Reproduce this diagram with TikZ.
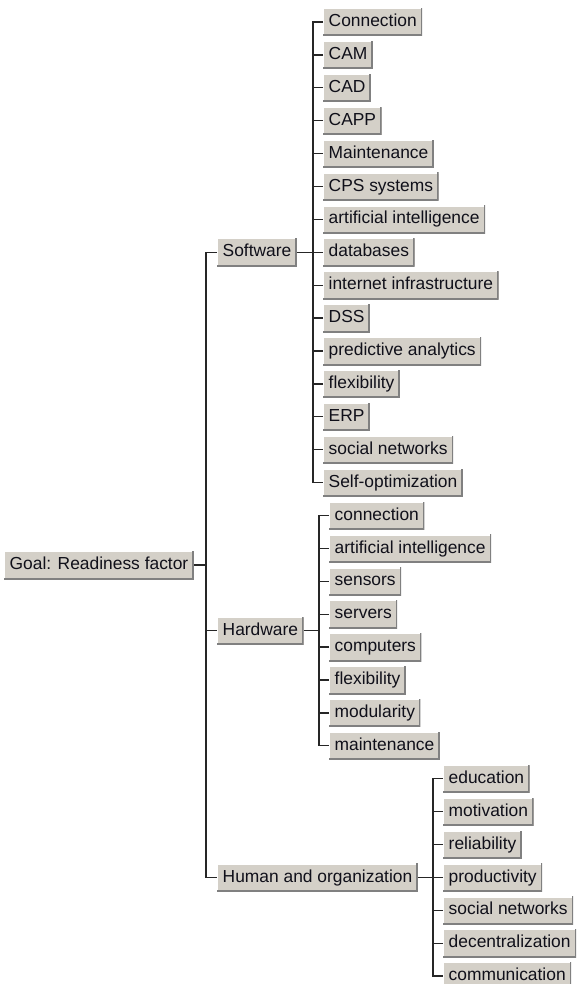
\documentclass[tikz,border=0pt]{standalone}
\usepackage{fontspec}
\setmainfont{Liberation Sans}
\usetikzlibrary{calc}
\definecolor{btnface}{HTML}{D4D0C8}
\definecolor{btnshadow}{HTML}{808080}
\definecolor{btntext}{HTML}{10101A}
\tikzset{
  btn/.style={anchor=west, fill=btnface, minimum height=28pt, inner xsep=5.5pt, inner ysep=0pt,
    text=btntext, font=\fontsize{17.4}{20}\selectfont, text height=12.8pt, text depth=3.6pt,
    path picture={
      \draw[white,line width=2.4pt] (path picture bounding box.south west) -- (path picture bounding box.north west) -- (path picture bounding box.north east);
      \draw[btnshadow,line width=3pt] (path picture bounding box.south west) -- (path picture bounding box.south east) -- (path picture bounding box.north east);
    }},
  conn/.style={line width=1.3pt, draw=black!85, line join=miter}
}
\begin{document}
\begin{tikzpicture}[x=1pt,y=1pt]
\useasboundingbox (0,0) rectangle (577,-984);
% parents
\node[btn] (goal) at (4,-565) {Goal: Readiness factor};
\node[btn] (sw) at (217,{-(22+32.9*7)}) {Software};
\node[btn] (hw) at (217,{-(22+32.9*18.5)}) {Hardware};
\node[btn] (hu) at (217,{-(22+32.9*26)}) {Human and organization};
% software children
\foreach \t [count=\i from 0] in {Connection, CAM, CAD, CAPP, Maintenance, CPS systems, artificial intelligence, databases, internet infrastructure, DSS, predictive analytics, flexibility, ERP, social networks, Self-optimization}
  \node[btn] (s\i) at (323,{-(22+32.9*\i)}) {\t};
% hardware children
\foreach \t [count=\i from 0] in {connection, artificial intelligence, sensors, servers, computers, flexibility, modularity, maintenance}
  \node[btn] (h\i) at (329,{-(22+32.9*(15+\i))}) {\t};
% human children
\foreach \t [count=\i from 0] in {education, motivation, reliability, productivity, social networks, decentralization, communication}
  \node[btn] (u\i) at (443,{-(22+32.9*(23+\i))}) {\t};
% connectors: root
\draw[conn] (sw.west) -- ++(-11,0) |- (hu.west);
\draw[conn] (hw.west) -- ++(-11,0);
\draw[conn] (goal.east) -- ($(goal.east -| sw.west)+(-11,0)$);
% software
\draw[conn] (s0.west) -- ++(-10,0) |- (s14.west);
\foreach \i in {1,...,13} \draw[conn] (s\i.west) -- ++(-10,0);
\draw[conn] (sw.east) -- ($(sw.east -| s0.west)+(-10,0)$);
% hardware
\draw[conn] (h0.west) -- ++(-10,0) |- (h7.west);
\foreach \i in {1,...,6} \draw[conn] (h\i.west) -- ++(-10,0);
\draw[conn] (hw.east) -- ($(hw.east -| h0.west)+(-10,0)$);
% human
\draw[conn] (u0.west) -- ++(-10,0) |- (u6.west);
\foreach \i in {1,...,5} \draw[conn] (u\i.west) -- ++(-10,0);
\draw[conn] (hu.east) -- ($(hu.east -| u0.west)+(-10,0)$);
\end{tikzpicture}
\end{document}
